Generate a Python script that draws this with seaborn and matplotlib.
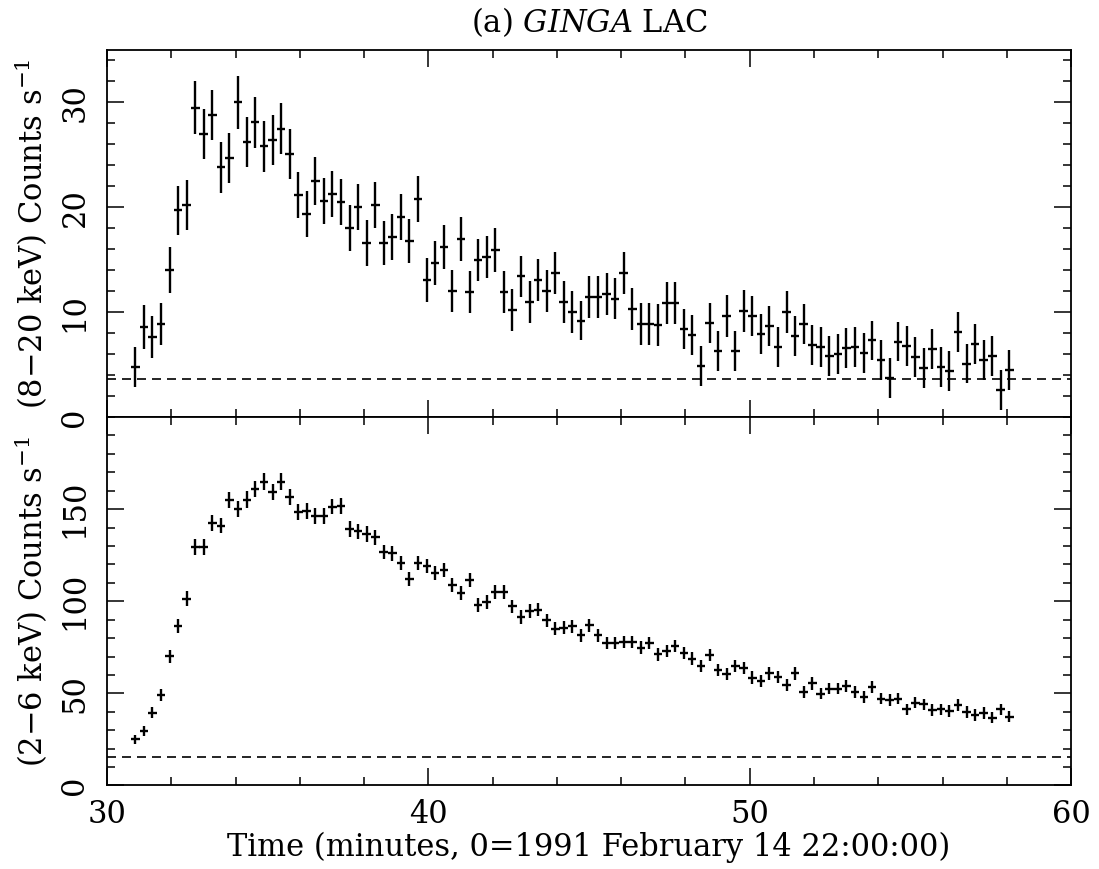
import matplotlib
matplotlib.use("Agg")
import matplotlib.pyplot as plt
import seaborn as sns
import numpy as np
from matplotlib.ticker import MultipleLocator, FixedLocator

# ---------------- data ----------------
time_min = [
    30.88, 31.15, 31.41, 31.68, 31.95, 32.21, 32.48, 32.75, 33.01, 33.28,
    33.55, 33.81, 34.08, 34.35, 34.61, 34.88, 35.15, 35.41, 35.68, 35.95,
    36.21, 36.48, 36.75, 37.01, 37.28, 37.55, 37.81, 38.08, 38.35, 38.61,
    38.88, 39.15, 39.41, 39.68, 39.95, 40.21, 40.48, 40.75, 41.01, 41.28,
    41.55, 41.81, 42.08, 42.35, 42.61, 42.88, 43.15, 43.41, 43.68, 43.95,
    44.21, 44.48, 44.75, 45.01, 45.28, 45.55, 45.81, 46.08, 46.35, 46.61,
    46.88, 47.15, 47.41, 47.68, 47.95, 48.21, 48.48, 48.75, 49.01, 49.28,
    49.55, 49.81, 50.08, 50.35, 50.61, 50.88, 51.15, 51.41, 51.68, 51.95,
    52.21, 52.48, 52.75, 53.01, 53.28, 53.55, 53.81, 54.08, 54.35, 54.61,
    54.88, 55.15, 55.41, 55.68, 55.95, 56.21, 56.48, 56.75, 57.01, 57.28,
    57.55, 57.81, 58.08,
]

hard_rate = [  # 8-20 keV counts/s
    4.8, 8.6, 7.6, 8.9, 14.0, 19.7, 20.2, 29.5, 27.0, 28.8,
    23.8, 24.7, 30.0, 26.2, 28.1, 25.8, 26.4, 27.5, 25.1, 21.2,
    19.4, 22.5, 20.6, 21.3, 20.5, 18.0, 20.0, 16.6, 20.2, 16.6,
    17.2, 19.1, 16.8, 20.8, 13.1, 14.7, 16.2, 12.0, 17.0, 11.9,
    15.0, 15.3, 15.9, 11.9, 10.2, 13.4, 11.0, 13.1, 12.0, 13.7,
    11.0, 10.0, 9.2, 11.4, 11.4, 11.7, 11.3, 13.7, 10.3, 8.9,
    8.9, 8.8, 10.9, 10.9, 8.4, 7.8, 4.9, 9.0, 6.3, 9.6,
    6.3, 10.1, 9.6, 7.9, 8.7, 6.7, 10.0, 7.7, 8.9, 6.9,
    6.7, 5.8, 6.0, 6.6, 6.7, 6.1, 7.3, 5.4, 3.7, 7.2,
    6.8, 5.7, 4.7, 6.5, 4.8, 4.4, 8.1, 5.1, 7.0, 5.4,
    5.8, 2.6, 4.5,
]

hard_err = [
    1.9, 2.1, 2.0, 2.0, 2.2, 2.3, 2.4, 2.5, 2.4, 2.4,
    2.4, 2.4, 2.5, 2.4, 2.4, 2.4, 2.4, 2.4, 2.4, 2.2,
    2.2, 2.3, 2.2, 2.2, 2.2, 2.2, 2.2, 2.2, 2.2, 2.1,
    2.2, 2.2, 2.1, 2.2, 2.1, 2.1, 2.1, 2.0, 2.1, 2.0,
    2.0, 2.0, 2.1, 2.0, 2.0, 2.0, 2.0, 2.0, 2.0, 2.0,
    2.0, 2.0, 1.9, 2.0, 2.0, 2.0, 2.0, 2.0, 2.0, 2.0,
    2.0, 2.0, 2.0, 2.0, 1.9, 1.9, 1.9, 1.9, 1.9, 2.0,
    1.9, 2.0, 1.9, 1.9, 1.9, 1.9, 2.0, 1.9, 1.9, 1.9,
    1.9, 1.9, 1.9, 1.9, 1.9, 1.9, 1.9, 1.9, 1.9, 1.9,
    1.9, 1.9, 1.9, 1.9, 1.9, 1.9, 1.9, 1.9, 1.9, 1.9,
    1.9, 1.9, 1.9,
]

soft_rate = [  # 2-6 keV counts/s
    25.0, 29.5, 39.4, 49.0, 70.2, 86.4, 101.4, 129.4, 129.4, 142.6,
    141.1, 155.0, 150.2, 155.2, 161.0, 165.0, 159.2, 165.0, 156.5, 148.3,
    149.2, 146.5, 146.5, 151.4, 151.9, 139.3, 137.9, 136.6, 134.8, 126.7,
    126.1, 120.9, 112.2, 120.9, 119.1, 115.5, 116.7, 108.6, 104.5, 111.7,
    97.8, 99.6, 105.0, 105.0, 97.2, 91.5, 94.7, 95.4, 89.7, 85.1,
    85.7, 86.4, 81.5, 86.9, 81.5, 77.4, 77.4, 77.9, 77.9, 74.9,
    77.4, 71.2, 73.0, 75.6, 71.9, 68.9, 64.7, 70.7, 62.9, 60.4,
    64.7, 64.0, 58.6, 56.5, 60.8, 58.9, 54.4, 60.8, 50.8, 55.4,
    49.9, 52.6, 52.6, 53.9, 50.8, 48.1, 53.5, 47.2, 46.3, 47.2,
    41.3, 44.9, 44.1, 40.9, 41.3, 40.5, 43.6, 40.0, 38.2, 39.4,
    36.9, 41.3, 37.3,
]

soft_err = [
    2.5, 2.7, 3.0, 3.2, 3.5, 3.7, 3.9, 4.3, 4.3, 4.3,
    4.3, 4.4, 4.3, 4.4, 4.5, 4.6, 4.5, 4.6, 4.4, 4.3,
    4.3, 4.3, 4.3, 4.3, 4.3, 4.2, 4.2, 4.2, 4.1, 4.0,
    4.0, 3.9, 3.8, 3.9, 3.9, 3.8, 3.8, 3.8, 3.7, 3.8,
    3.7, 3.7, 3.7, 3.7, 3.7, 3.6, 3.6, 3.6, 3.6, 3.5,
    3.5, 3.5, 3.5, 3.5, 3.5, 3.4, 3.4, 3.4, 3.4, 3.4,
    3.4, 3.4, 3.4, 3.4, 3.4, 3.3, 3.3, 3.3, 3.3, 3.3,
    3.3, 3.3, 3.3, 3.3, 3.3, 3.3, 3.3, 3.3, 3.2, 3.3,
    3.2, 3.2, 3.2, 3.2, 3.2, 3.2, 3.2, 3.2, 3.2, 3.2,
    3.1, 3.1, 3.1, 3.1, 3.1, 3.1, 3.1, 3.1, 3.1, 3.1,
    3.1, 3.1, 3.1,
]

bin_half_width = 0.133          # minutes (half of 16 s bin)
hard_background = 3.6
soft_background = 15.5

title_text = "(a) $\\mathit{GINGA}$ LAC"
hard_label = "(8\u221220 keV) Counts s$^{-1}$"
soft_label = "(2\u22126 keV) Counts s$^{-1}$"
x_label = "Time (minutes, 0=1991 February 14 22:00:00)"

# ---------------- style ----------------
sns.set_theme(style="ticks")
plt.rcParams["font.family"] = ["DejaVu Serif"]
plt.rcParams["mathtext.fontset"] = "custom"
plt.rcParams["mathtext.rm"] = "DejaVu Serif"
plt.rcParams["mathtext.it"] = "DejaVu Serif:italic"
plt.rcParams["axes.linewidth"] = 1.3

FS = 22

fig = plt.figure(figsize=(10.99, 8.69), dpi=100)
fig.patch.set_facecolor("white")
left, width = 0.0974, 0.8772
ax_top = fig.add_axes([left, 0.5201, width, 0.9425 - 0.5201])
ax_bot = fig.add_axes([left, 0.0961, width, 0.5201 - 0.0961], sharex=ax_top)

for ax, y, yerr, bg in ((ax_top, hard_rate, hard_err, hard_background),
                        (ax_bot, soft_rate, soft_err, soft_background)):
    ax.set_facecolor("white")
    ax.errorbar(time_min, y, yerr=yerr, xerr=bin_half_width, fmt="none",
                ecolor="black", elinewidth=1.7, capsize=0)
    ax.axhline(bg, color="black", lw=1.2, ls=(0, (5.4, 3.6)))
    for s in ax.spines.values():
        s.set_color("black")
        s.set_linewidth(1.3)
    ax.tick_params(which="both", direction="in", top=True, right=True,
                   color="black", width=1.1, labelsize=FS, labelcolor="black")
    ax.tick_params(which="major", length=12)
    ax.tick_params(which="minor", length=6)
    ax.tick_params(axis="y", which="major", labelrotation=90, pad=12)
    ax.xaxis.set_major_locator(MultipleLocator(10))
    ax.xaxis.set_minor_locator(MultipleLocator(2))
    ax.grid(False)

ax_top.set_xlim(30, 60)
ax_top.set_ylim(0, 35)
ax_top.yaxis.set_major_locator(FixedLocator([0, 10, 20, 30]))
ax_top.yaxis.set_minor_locator(MultipleLocator(2))
ax_top.tick_params(axis="x", labelbottom=False)

ax_bot.set_ylim(0, 200)
ax_bot.yaxis.set_major_locator(FixedLocator([0, 50, 100, 150]))
ax_bot.yaxis.set_minor_locator(MultipleLocator(10))
ax_bot.tick_params(axis="x", which="major", pad=10)

for ax in (ax_top, ax_bot):
    for lbl in ax.get_yticklabels():
        lbl.set_va("center")

ax_top.set_title(title_text, fontsize=FS, pad=13, color="black")
ax_top.set_ylabel(hard_label, fontsize=FS, color="black")
ax_bot.set_ylabel(soft_label, fontsize=FS, color="black")
ax_bot.set_xlabel(x_label, fontsize=FS, color="black", labelpad=1)
ax_top.yaxis.set_label_coords(-0.059, 0.5)
ax_bot.yaxis.set_label_coords(-0.059, 0.5)

fig.savefig("out.png", dpi=100, facecolor="white")
